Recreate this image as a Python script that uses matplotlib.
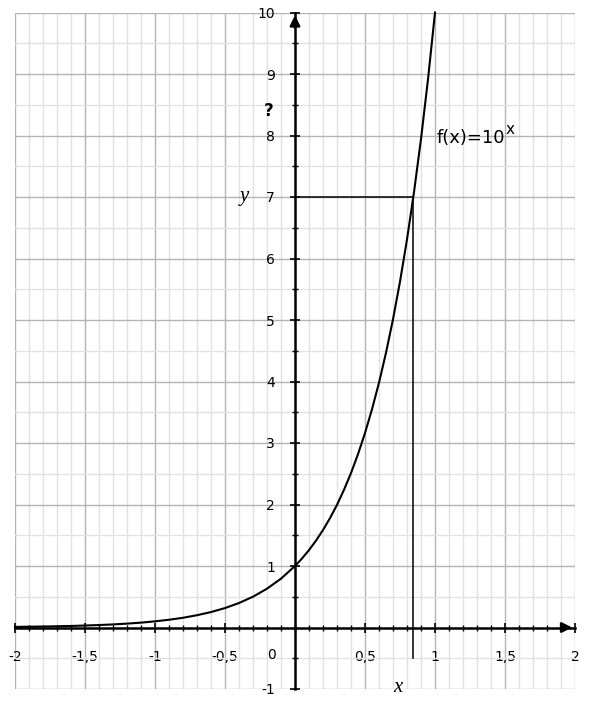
import numpy as np
import matplotlib
matplotlib.use("Agg")
import matplotlib.pyplot as plt
from matplotlib.ticker import MultipleLocator

# curve f(x)=10^x, values
curve_x = [-2.0, -1.9, -1.8, -1.7, -1.6, -1.5, -1.4, -1.3, -1.2, -1.1, -1.0,
           -0.9, -0.8, -0.7, -0.6, -0.5, -0.4, -0.3, -0.2, -0.1, 0.0,
           0.05, 0.1, 0.15, 0.2, 0.25, 0.3, 0.35, 0.4, 0.45, 0.5,
           0.55, 0.6, 0.65, 0.7, 0.75, 0.8, 0.85, 0.9, 0.95, 1.0]
curve_y = [0.01, 0.013, 0.016, 0.02, 0.025, 0.032, 0.04, 0.05, 0.063, 0.079, 0.1,
           0.126, 0.158, 0.2, 0.251, 0.316, 0.398, 0.501, 0.631, 0.794, 1.0,
           1.122, 1.259, 1.413, 1.585, 1.778, 1.995, 2.239, 2.512, 2.818, 3.162,
           3.548, 3.981, 4.467, 5.012, 5.623, 6.31, 7.079, 7.943, 8.913, 10.0]

# the marked point: y = 7 -> x = log10(7)
point_x = 0.845
point_y = 7
drop_to = -0.5

x_ticks = [-2, -1.5, -1, -0.5, 0.5, 1, 1.5, 2]
x_labels = ["-2", "-1,5", "-1", "-0,5", "0,5", "1", "1,5", "2"]
y_ticks = [-1, 1, 2, 3, 4, 5, 6, 7, 8, 9, 10]
y_labels = ["-1", "1", "2", "3", "4", "5", "6", "7", "8", "9", "10"]

fig = plt.figure(figsize=(6, 7.05), dpi=100)
ax = fig.add_axes([15 / 600, 16 / 705, 560 / 600, 676.5 / 705])
ax.set_xlim(-2, 2)
ax.set_ylim(-1, 10)

ax.set_xticks(x_ticks, x_labels)
ax.set_yticks(y_ticks, y_labels)
ax.xaxis.set_minor_locator(MultipleLocator(0.1))
ax.yaxis.set_minor_locator(MultipleLocator(0.5))

# grid
ax.grid(True, which="major", color="#b4b4b4", lw=1.0)
ax.grid(True, which="minor", color="#e2e2e2", lw=1.0)
ax.set_axisbelow(True)

# axes through origin
for s in ["top", "right"]:
    ax.spines[s].set_visible(False)
ax.spines["left"].set_position(("data", 0))
ax.spines["bottom"].set_position(("data", 0))
ax.spines["left"].set_linewidth(1.8)
ax.spines["bottom"].set_linewidth(1.8)
ax.spines["left"].set_zorder(3)
ax.spines["bottom"].set_zorder(3)

ax.tick_params(which="major", direction="inout", length=7, width=1.2, labelsize=10)
ax.tick_params(which="minor", direction="inout", length=5, width=1.0)
ax.tick_params(axis="x", which="major", pad=13)
ax.tick_params(axis="y", which="major", pad=11)

# arrow heads
ax.annotate("", xy=(2.0, 0), xytext=(1.9, 0),
            arrowprops=dict(arrowstyle="-|>", color="black", lw=1.8, mutation_scale=15),
            zorder=4)
ax.annotate("", xy=(0, 10.0), xytext=(0, 9.7),
            arrowprops=dict(arrowstyle="-|>", color="black", lw=1.8, mutation_scale=15),
            zorder=4, annotation_clip=False)

# curve
ax.plot(curve_x, curve_y, color="black", lw=1.5, zorder=5, clip_on=False)

# helper lines
ax.plot([0, point_x], [point_y, point_y], color="black", lw=1.1, zorder=4)
ax.plot([point_x, point_x], [drop_to, point_y], color="black", lw=1.1, zorder=4)

# texts
ax.text(-0.165, -0.33, "0", fontsize=10, ha="center", va="top")
t = ax.text(1.015, 7.87, "f(x)=10", fontsize=13, ha="left", va="baseline")
ax.annotate("x", xy=(1.0, 0.6), xycoords=t, fontsize=11, ha="left", va="bottom")
ax.text(-0.36, 7, "y", fontsize=15, family="Liberation Serif", style="italic",
        ha="center", va="center")
ax.text(0.735, -0.98, "x", fontsize=15, family="Liberation Serif", style="italic",
        ha="center", va="center")
ax.text(-0.19, 8.4, "?", fontsize=12, fontweight="bold", ha="center", va="center")

fig.savefig("out.png", dpi=100)
